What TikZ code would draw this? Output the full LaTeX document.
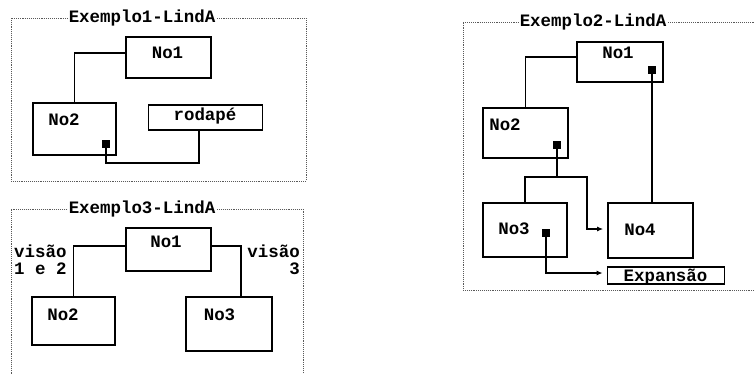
\documentclass[tikz,border=0pt]{standalone}
\usepackage{fontspec}
\newfontfamily\dotfont{Liberation Mono}
\usetikzlibrary{arrows.meta}

\begin{document}
\begin{tikzpicture}[x=1bp,y=-1bp,
  frame/.style={black!65,densely dotted,line width=0.9bp},
  title/.style={fill=white,inner xsep=1bp,inner ysep=0pt,text height=10bp,text depth=2bp,
    font=\dotfont\bfseries\fontsize{17.5}{17}\selectfont},
  txt/.style={inner sep=0pt,text height=10bp,text depth=0pt,
    font=\dotfont\bfseries\fontsize{17.5}{17}\selectfont},
  side/.style={inner sep=0pt,font=\dotfont\bfseries\fontsize{17.5}{17}\selectfont},
  nobox/.style={draw,line width=2bp,inner sep=0pt},
  thinbox/.style={draw,line width=1.2bp,inner sep=0pt},
  port/.style={fill,inner sep=0pt,minimum size=8bp},
  link/.style={line width=1.2bp},
  arr/.style={link,-{Latex[length=6bp,width=5bp]},shorten >=4bp}]
  \useasboundingbox (0,0) rectangle (754,373);

  % Exemplo1
  \begin{scope}
    \draw[frame] (11,18) rectangle (306,181);
    \node[title] (t1) at (142,18) {Exemplo1-LindA};
    \node[nobox,minimum width=85,minimum height=41] (a1) at (168.5,57.5) {};
    \node[txt] (a1t) at (167.5,53) {No1};
    \node[nobox,minimum width=83,minimum height=52] (a2) at (74.5,129) {};
    \node[txt] (a2t) at (64,120) {No2};
    \node[thinbox,minimum width=115,minimum height=25] (ar) at (205.5,117.5) {};
    \node[txt] (art) at (205,115) {rodapé};
    \node[port] (a2p) at (106,144) {};
    \coordinate (a3) at (199,163);
    \draw[link] (a1.west |- a1t) -| (a2.north);
    \draw[link] (a2p.center) |- (a3) -- (a3 |- ar.south);
  \end{scope}

  % Exemplo3
  \begin{scope}
    \draw[frame] (11,380) |- (303,209) -- (303,380);
    \node[title] (t3) at (142,209) {Exemplo3-LindA};
    \node[nobox,minimum width=85,minimum height=43] (c1) at (168.5,249.5) {};
    \node[txt] (c1t) at (166,242) {No1};
    \node[nobox,minimum width=83,minimum height=48] (c2) at (73.5,321) {};
    \node[txt] (c2t) at (63,315) {No2};
    \node[nobox,minimum width=86,minimum height=54] (c3) at (229,324) {};
    \node[txt] (c3t) at (219.5,315) {No3};
    \draw[link] ([yshift=3.5]c1.west) -| (c2.north);
    \draw[link] ([yshift=3.5]c1.east) -| ([xshift=12]c3.north);
    \node[side,align=left,anchor=north west] (v12) at (14,245) {visão\\1 e 2};
    \node[side,align=right,anchor=north east] (v3) at (300,245) {visão\\3};
  \end{scope}

  % Exemplo2
  \begin{scope}
    \draw[frame] (760,22) -| (463,290) -- (760,290);
    \node[title] (t2) at (593,22) {Exemplo2-LindA};
    \node[nobox,minimum width=86,minimum height=40] (b1) at (620,62) {};
    \node[txt] (b1t) at (618,53) {No1};
    \node[nobox,minimum width=85,minimum height=50] (b2) at (525.5,133) {};
    \node[txt] (b2t) at (505,125) {No2};
    \node[nobox,minimum width=84,minimum height=54] (b3) at (525,230) {};
    \node[txt] (b3t) at (514,229) {No3};
    \node[nobox,minimum width=85,minimum height=55] (b4) at (650.5,230.5) {};
    \node[txt] (b4t) at (640,230) {No4};
    \node[thinbox,minimum width=118,minimum height=17] (bx) at (666,275.5) {};
    \node[txt] (bxt) at (665.5,276.5) {Expansão};
    \node[port] (b1p) at (652,70) {};
    \node[port] (b2p) at (557,145) {};
    \node[port] (b3p) at (546,233) {};
    \coordinate (b2j) at (557,177);
    \coordinate (b2k) at (587,229);
    \draw[link] ([yshift=5]b1.west) -| (b2.north);
    \draw[link] (b1p.center) -- (b1p |- b4.north);
    \draw[link] (b2p.center) -- (b2j) -| (b3.north);
    \draw[arr] (b2j) -| (b2k) -- (b4.west |- b2k);
    \draw[arr] (b3p.center) |- ([yshift=2.5]bx.west);
  \end{scope}
\end{tikzpicture}
\end{document}
